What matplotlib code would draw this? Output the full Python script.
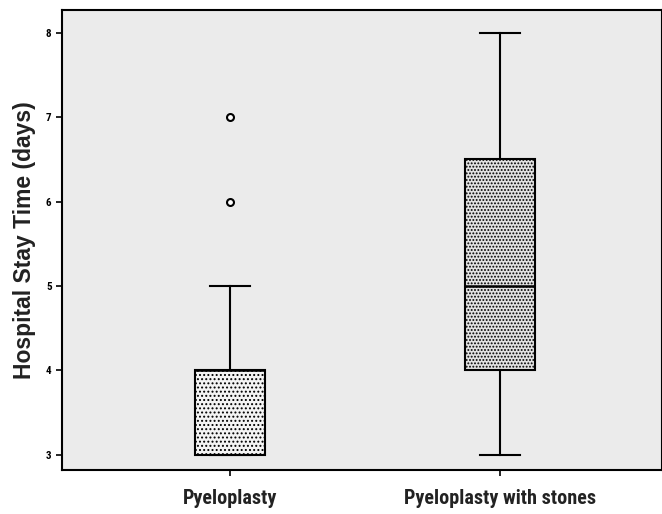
import matplotlib.pyplot as plt

# valeurs
groups = ['Pyeloplasty', 'Pyeloplasty with stones']
q1 = [3, 4]
medians = [4, 5]
q3 = [4, 6.5]
whis_low = [3, 3]
whis_high = [5, 8]
outliers = [[6, 7], []]
yticks = [3, 4, 5, 6, 7, 8]

plt.rcParams['font.family'] = ['Roboto Condensed', 'DejaVu Sans']
plt.rcParams['hatch.color'] = '#555555'
plt.rcParams['hatch.linewidth'] = 0.9

stats = []
for i in range(len(groups)):
    stats.append({'label': groups[i], 'q1': q1[i], 'med': medians[i], 'q3': q3[i],
                  'whislo': whis_low[i], 'whishi': whis_high[i], 'fliers': outliers[i]})

fig = plt.figure(figsize=(6.62, 5.14), dpi=100)
ax = fig.add_axes([62 / 662, 44 / 514, 600 / 662, 460 / 514])
ax.set_facecolor('#ebebeb')

bp = ax.bxp(stats, positions=[1, 2], widths=0.26, patch_artist=True,
            boxprops=dict(facecolor='#f4f4f4', edgecolor='black', linewidth=1.5),
            medianprops=dict(color='black', linewidth=1.8),
            whiskerprops=dict(color='black', linewidth=1.5),
            capprops=dict(color='black', linewidth=1.5),
            capwidths=0.15,
            flierprops=dict(marker='o', markerfacecolor='white', markeredgecolor='black',
                            markersize=5, markeredgewidth=1.5))
bp['boxes'][0].set_hatch('....')
bp['boxes'][1].set_hatch('.....')
bp['boxes'][1].set_facecolor('#e2e2e2')

ax.set_xlim(0.378, 2.6)
ax.set_ylim(2.82, 8.27)
ax.set_yticks(yticks)
ax.set_yticklabels([str(t) for t in yticks], fontsize=8, fontweight='bold')
ax.set_xticks([1, 2])
ax.set_xticklabels(groups, fontsize=14.5, fontweight='bold', color='#222222')
ax.set_ylabel('Hospital Stay Time (days)', fontsize=16.5, fontweight='bold', color='#222222',
              family=['Liberation Sans', 'DejaVu Sans'], labelpad=7)
ax.tick_params(axis='both', length=4, width=1.2)
ax.tick_params(axis='x', pad=10)
for s in ax.spines.values():
    s.set_linewidth(1.5)

plt.savefig('out.png', dpi=100)
